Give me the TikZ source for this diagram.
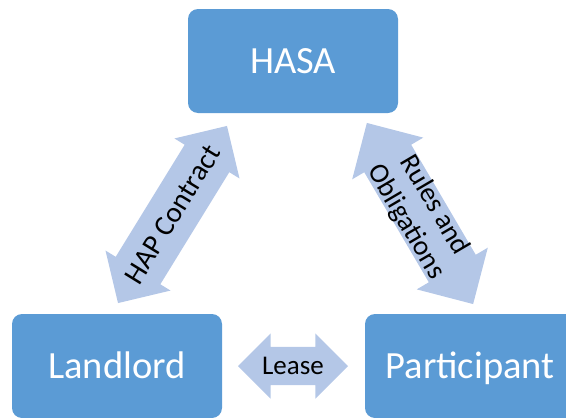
\documentclass[tikz,border=0pt]{standalone}
\usepackage{fontspec}
\setmainfont{Carlito}
\usetikzlibrary{shapes.arrows}
\definecolor{boxblue}{HTML}{5B9BD5}
\definecolor{arrowblue}{HTML}{B4C7E7}
\begin{document}
\begin{tikzpicture}[x=1pt,y=-1pt,
  party/.style={fill=boxblue, rounded corners=10pt, minimum width=210pt,
    minimum height=104pt, inner sep=0pt, text=white,
    font=\fontsize{38.5}{46}\selectfont, text height=24pt, text depth=0pt},
  blockarrow/.style={shape=double arrow, fill=arrowblue, inner sep=0pt,
    double arrow tip angle=90},
  arrowlabel/.style={text=black, align=center, inner sep=0pt}]
\useasboundingbox (0,0) rectangle (566,418);
\clip (0,0) rectangle (566,418);

% the three parties
\node[party] (hasa) at (293,61) {HASA};
\node[party] (landlord) at (117,366) {Landlord};
\node[party] (participant) at (470,366) {Participant};

% two-way relations between them
\node[blockarrow, minimum height=208pt, inner ysep=26pt,
  double arrow head extend=12pt, rotate=58.4] (hap) at (172.5,214.5) {};
\node[arrowlabel, font=\fontsize{29}{34}\selectfont, rotate=58.4]
  (haplabel) at (hap.center) {HAP Contract};

\node[blockarrow, minimum height=210pt, inner ysep=27pt,
  double arrow head extend=14pt, rotate=-59.6] (rules) at (420,213.5) {};
\node[arrowlabel, font=\fontsize{28}{33}\selectfont, rotate=-59.6]
  (ruleslabel) at (rules.center) {Rules and\\Obligations};

\node[blockarrow, minimum height=110pt, inner ysep=19pt,
  double arrow head extend=13.5pt] (lease) at (293,366) {};
\node[arrowlabel, font=\fontsize{27}{32}\selectfont]
  (leaselabel) at (lease.center) {Lease};
\end{tikzpicture}
\end{document}
